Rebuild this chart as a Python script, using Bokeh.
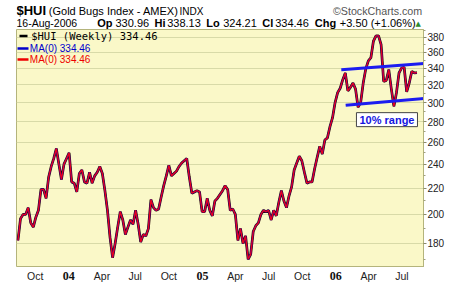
import pandas as pd
from bokeh.plotting import figure
from bokeh.layouts import column
from bokeh.models import Range1d, FixedTicker, Grid, Label, BoxAnnotation, NumeralTickFormatter
from bokeh.embed import file_html
from bokeh.resources import INLINE

# ---- data (weekly closes of $HUI) ----
hui_weekly = [
    182, 197, 200, 200, 205, 194, 191, 198, 203, 219,
    219, 212, 229, 238, 245, 254, 240, 227, 240, 245,
    250, 225, 224, 217, 232, 235, 225, 224, 233, 224,
    230, 233, 238, 232, 218, 203, 184, 171, 180, 191,
    202, 196, 186, 191, 196, 193, 203, 193, 181, 186,
    185, 190, 211, 205, 203, 204, 213, 222, 230, 239,
    230, 232, 234, 238, 241, 243, 245, 229, 216, 217,
    218, 217, 202, 202, 212, 203, 199, 210, 212, 215,
    218, 222, 219, 203, 204, 200, 182, 190, 180, 185,
    170, 173, 188, 192, 194, 200, 203, 202, 203, 196,
    203, 199, 209, 218, 210, 205, 214, 221, 235, 241,
    247, 243, 233, 224, 225, 225, 236, 246, 256, 249,
    262, 264, 275, 284, 300, 311, 316, 326, 334, 313,
    317, 322, 315, 295, 300, 322, 339, 349, 353, 375,
    382, 382, 370, 324, 325, 338, 315, 296, 311, 334,
    340, 341, 312, 322, 336, 334, 334.46,
]
first_week = "2003-08-15"

upper_trend_dates = ["2006-01-16", "2006-09-06"]
upper_trend_vals = [338, 346]
lower_trend_dates = ["2006-01-28", "2006-09-06"]
lower_trend_vals = [297, 304.6]

range_note_date = "2006-05-21"
range_note_val = 282
range_note_text = "10% range"

y_ticks = [180, 200, 220, 240, 260, 280, 300, 320, 340, 360, 380]
y_minor = [170, 190, 210, 230, 250, 270, 290, 310, 330, 350, 370, 390]

quarter_dates = ["2003-10-01", "2004-01-01", "2004-04-01", "2004-07-01",
                 "2004-10-01", "2005-01-01", "2005-04-01", "2005-07-01",
                 "2005-10-01", "2006-01-01", "2006-04-01", "2006-07-01"]
quarter_labels = ["Oct", "04", "Apr", "Jul", "Oct", "05", "Apr", "Jul",
                  "Oct", "06", "Apr", "Jul"]
year_labels = {"04", "05", "06"}

x_start, x_end = "2003-08-11", "2006-08-29"
y_start, y_end = 165, 391

quote_date = "16-Aug-2006"
quote_open = "330.96"
quote_high = "338.13"
quote_low = "324.21"
quote_close = "334.46"
quote_change = "+3.50 (+1.06%)"


def ms(d):
    return int(pd.Timestamp(d).value // 10**6)


week_dates = pd.date_range(first_week, periods=len(hui_weekly), freq="W-FRI")

OLIVE = "#b4b47c"
GRID = "#d8daa8"
YEARGRID = "#bcc38c"
shared_x = Range1d(ms(x_start), ms(x_end))


def add_label(fig, x, y, text, size="11px", color="#000000", bold=False,
              font="Liberation Sans", align="left", x_units="screen"):
    # y = vertical centre of the text, in px up from the frame bottom
    fig.add_layout(Label(x=x, y=y, x_units=x_units, y_units="screen", text=text,
                         text_font=font, text_font_size=size, text_color=color,
                         text_font_style="bold" if bold else "normal",
                         text_align=align, text_baseline="middle"))


def strip(height):
    f = figure(width=460, height=height, x_range=shared_x, y_range=Range1d(0, 1),
               output_backend="svg", toolbar_location=None, title=None,
               x_axis_location=None, y_axis_location=None,
               min_border_left=16, min_border_right=37, min_border_top=0, min_border_bottom=0)
    f.outline_line_color = None
    f.xgrid.visible = False
    f.ygrid.visible = False
    f.background_fill_color = "white"
    f.border_fill_color = "white"
    return f


# ---------------- header strip (frame x = page x - 16, y up from strip bottom) ----------------
hp = strip(29)
L1, L2 = 18.2, 6.2
add_label(hp, 0, L1 + 0.4, "$HUI", size="13px", bold=True)
add_label(hp, 32.3, L1, "(Gold Bugs Index - AMEX)")
add_label(hp, 163, L1, "INDX", size="10px")
add_label(hp, 405.7, L1 + 0.6, "\u00a9StockCharts.com", size="10.7px", color="#555555", align="right")
add_label(hp, 0, L2, quote_date, size="10.5px")
add_label(hp, 80.7, L2, "Op", bold=True)
add_label(hp, 99, L2, quote_open)
add_label(hp, 138, L2, "Hi", bold=True)
add_label(hp, 150.7, L2, quote_high)
add_label(hp, 189.7, L2, "Lo", bold=True)
add_label(hp, 206.7, L2, quote_low)
add_label(hp, 245.7, L2, "Cl", bold=True)
add_label(hp, 258.7, L2, quote_close)
add_label(hp, 298.3, L2, "Chg", bold=True)
add_label(hp, 323.3, L2, quote_change)
add_label(hp, 399, 5.2, "\u25b2", size="7px", color="#2e8b2e", font="DejaVu Sans")

# ---------------- main chart (frame 407 x 238) ----------------
p = figure(width=460, height=238, x_axis_type="datetime", y_axis_type="log",
           x_axis_location=None, y_axis_location="right", title=None,
           x_range=shared_x, y_range=Range1d(y_start, y_end),
           output_backend="svg", toolbar_location=None,
           min_border_left=16, min_border_right=37,
           min_border_top=0, min_border_bottom=0)

p.background_fill_color = "#faf8c8"
p.border_fill_color = "white"
p.outline_line_color = OLIVE

# y axis
ay = p.yaxis[0]
ay.ticker = FixedTicker(ticks=y_ticks, minor_ticks=y_minor)
ay.formatter = NumeralTickFormatter(format="0")
ay.major_tick_in = 0
ay.major_tick_out = 3
ay.minor_tick_in = 0
ay.minor_tick_out = 2
ay.major_tick_line_color = "#8a8a6a"
ay.minor_tick_line_color = "#a0a080"
ay.axis_line_color = OLIVE
ay.major_label_standoff = 1
ay.major_label_text_font = "Liberation Sans"
ay.major_label_text_font_size = "10px"
ay.major_label_text_color = "#222222"

# grids
q_ms = [ms(d) for d in quarter_dates]
yr_ms = [m for m, l in zip(q_ms, quarter_labels) if l in year_labels]
p.add_layout(Grid(dimension=0, ticker=FixedTicker(ticks=[m for m in q_ms if m not in yr_ms]),
                  grid_line_color=GRID))
p.add_layout(Grid(dimension=0, ticker=FixedTicker(ticks=yr_ms), grid_line_color=YEARGRID))
p.ygrid.ticker = FixedTicker(ticks=y_ticks)
p.ygrid.grid_line_color = GRID
p.xgrid.visible = False

# price line (black) with MA(0) overlays
p.line(week_dates, hui_weekly, line_color="#2a0808", line_width=2.7)
p.line(week_dates, hui_weekly, line_color="#0000cc", line_width=1.6)
p.line(week_dates, hui_weekly, line_color="#e8001c", line_width=1.4)

# trend channel
p.line(pd.to_datetime(upper_trend_dates), upper_trend_vals, line_color="#1c1cf0", line_width=3)
p.line(pd.to_datetime(lower_trend_dates), lower_trend_vals, line_color="#1c1cf0", line_width=3)

p.add_layout(Label(x=ms(range_note_date), y=range_note_val, text=range_note_text,
                   text_align="center", text_baseline="middle",
                   text_font="Liberation Sans", text_font_size="11px", text_font_style="bold",
                   text_color="#1414e0", background_fill_color="white",
                   border_line_color="#444444", border_line_width=1, padding=(3, 1)))

# in-chart legend (screen coords relative to frame bottom-left; frame bottom = page y 267)
for (l, r, b, t, c) in [(3, 11, 230.3, 232.7, "#000000"),
                        (1, 12, 217.8, 220.2, "#0000cc"),
                        (1, 12, 206.8, 209.2, "#ee0000")]:
    p.add_layout(BoxAnnotation(left=l, right=r, bottom=b, top=t,
                               left_units="screen", right_units="screen",
                               bottom_units="screen", top_units="screen",
                               fill_color=c, fill_alpha=1, line_color=None))
add_label(p, 14.7, 231.6, "$HUI (Weekly) " + quote_close, size="10.5px", font="DejaVu Sans Mono")
add_label(p, 13.3, 218.8, "MA(0) " + quote_close, size="10px", color="#0000cc")
add_label(p, 13.3, 208, "MA(0) " + quote_close, size="10px", color="#ee0000")

# ---------------- date scale strip under the chart (shares the x range) ----------------
fp = strip(17)
for m, l in zip(q_ms, quarter_labels):
    if l in year_labels:
        add_label(fp, m, 8.7, l, size="12px", bold=True, font="Liberation Serif",
                  color="#111111", align="center", x_units="data")
    else:
        add_label(fp, m, 8.4, l, size="10.5px", color="#222222", align="center", x_units="data")

page = column(hp, p, fp, spacing=0)
open("out.html", "w").write(file_html(page, INLINE))
